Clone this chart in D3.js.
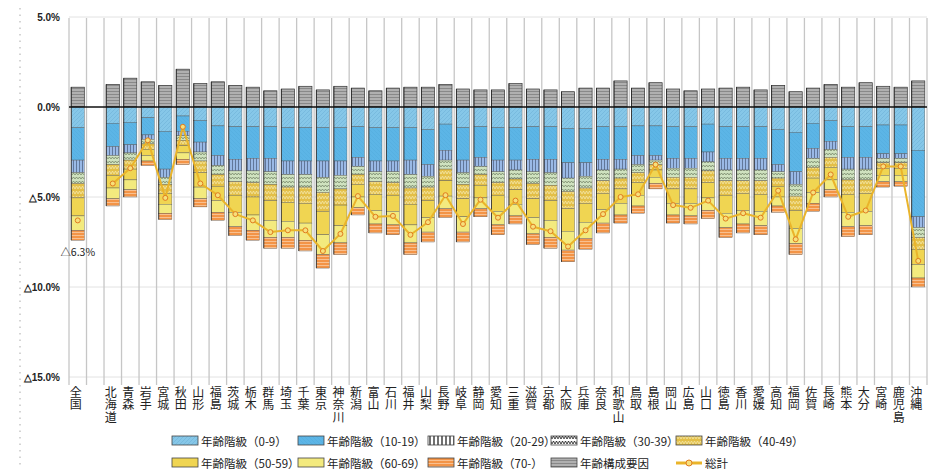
<!DOCTYPE html>
<html><head><meta charset="utf-8">
<script src="https://cdn.jsdelivr.net/npm/d3@7/dist/d3.min.js"></script>
<style>body{margin:0;background:#fff;}svg{display:block;font-family:"Noto Sans CJK JP","Noto Sans",sans-serif;}
.vlab{writing-mode:vertical-rl;text-orientation:upright;}</style>
</head><body>
<script>
const categories = ["全国","北海道","青森","岩手","宮城","秋田","山形","福島","茨城","栃木","群馬","埼玉","千葉","東京","神奈川","新潟","富山","石川","福井","山梨","長野","岐阜","静岡","愛知","三重","滋賀","京都","大阪","兵庫","奈良","和歌山","鳥取","島根","岡山","広島","山口","徳島","香川","愛媛","高知","福岡","佐賀","長崎","熊本","大分","宮崎","鹿児島","沖縄"];
// 年齢構成要因 (positive)
const ageStructure = [1.1,1.25,1.6,1.4,1.2,2.1,1.3,1.4,1.2,1.1,0.9,1.0,1.15,0.95,1.15,1.05,0.9,1.05,1.1,1.1,1.25,1.0,0.95,0.95,1.3,1.0,0.95,0.85,1.05,1.05,1.45,1.05,1.35,1.0,0.9,1.0,1.05,1.1,0.95,1.2,0.85,1.05,1.25,1.1,1.35,1.15,1.1,1.45];
const age0_9   = [-1.15,-0.9,-0.85,-0.6,-1.35,-0.5,-0.75,-1.05,-1.1,-1.1,-1.1,-1.15,-1.15,-1.15,-1.15,-1.1,-1.15,-1.15,-1.15,-1.25,-0.95,-1.15,-1.1,-1.15,-1.15,-1.1,-1.1,-1.2,-1.2,-1.1,-1.1,-1.05,-1.05,-1.1,-1.1,-0.95,-1.1,-1.1,-1.1,-1.25,-1.4,-0.9,-0.75,-1.1,-1.1,-1.0,-1.0,-2.4];
const age10_19 = [-1.8,-1.3,-1.25,-0.95,-2.1,-0.85,-1.2,-1.65,-1.8,-1.75,-1.75,-1.85,-1.85,-1.85,-1.85,-1.7,-1.85,-1.85,-1.8,-1.95,-1.45,-1.8,-1.7,-1.8,-1.8,-1.8,-1.8,-1.9,-1.9,-1.8,-1.8,-1.65,-1.65,-1.75,-1.75,-1.55,-1.75,-1.75,-1.75,-1.95,-2.2,-1.4,-1.15,-1.7,-1.7,-1.6,-1.6,-3.7];
const age20_29 = [-0.7,-0.5,-0.45,-0.25,-0.45,-0.25,-0.55,-0.55,-0.65,-0.7,-0.75,-0.75,-0.75,-0.9,-0.8,-0.5,-0.6,-0.6,-0.8,-0.65,-0.55,-0.7,-0.5,-0.65,-0.55,-0.7,-0.75,-0.85,-0.75,-0.6,-0.55,-0.5,-0.25,-0.55,-0.55,-0.55,-0.65,-0.65,-0.65,-0.4,-0.7,-0.55,-0.45,-0.65,-0.65,-0.25,-0.25,-0.6];
const age30_39 = [-0.6,-0.5,-0.4,-0.25,-0.4,-0.25,-0.5,-0.5,-0.6,-0.65,-0.7,-0.7,-0.7,-0.85,-0.75,-0.45,-0.55,-0.6,-0.75,-0.6,-0.5,-0.65,-0.45,-0.6,-0.5,-0.65,-0.7,-0.75,-0.65,-0.6,-0.5,-0.45,-0.25,-0.5,-0.5,-0.5,-0.6,-0.6,-0.6,-0.35,-0.65,-0.5,-0.45,-0.6,-0.6,-0.25,-0.25,-0.55];
const age40_49 = [-0.8,-0.6,-0.5,-0.3,-0.5,-0.3,-0.65,-0.65,-0.75,-0.8,-0.9,-0.85,-0.9,-1.05,-0.9,-0.55,-0.7,-0.7,-0.9,-0.75,-0.65,-0.8,-0.6,-0.7,-0.6,-0.85,-0.85,-0.95,-0.85,-0.7,-0.6,-0.55,-0.3,-0.65,-0.65,-0.65,-0.8,-0.7,-0.75,-0.45,-0.8,-0.6,-0.55,-0.8,-0.75,-0.3,-0.3,-0.65];
const age50_59 = [-1.0,-0.7,-0.6,-0.35,-0.6,-0.4,-0.8,-0.8,-0.95,-1.0,-1.1,-1.05,-1.1,-1.3,-1.15,-0.7,-0.9,-0.9,-1.15,-0.95,-0.85,-1.0,-0.7,-0.9,-0.8,-1.05,-1.1,-1.25,-1.05,-0.9,-0.8,-0.7,-0.4,-0.8,-0.8,-0.85,-1.0,-0.95,-0.95,-0.6,-1.0,-0.8,-0.7,-1.0,-1.0,-0.4,-0.4,-0.85];
const age60_69 = [-0.8,-0.6,-0.55,-0.3,-0.5,-0.35,-0.65,-0.65,-0.8,-0.85,-0.95,-0.9,-0.95,-1.1,-0.95,-0.6,-0.75,-0.75,-1.0,-0.8,-0.7,-0.85,-0.6,-0.75,-0.65,-0.9,-0.95,-1.05,-0.9,-0.75,-0.65,-0.6,-0.35,-0.65,-0.7,-0.7,-0.8,-0.75,-0.8,-0.5,-0.85,-0.6,-0.55,-0.8,-0.8,-0.35,-0.35,-0.75];
const age70_  = [-0.55,-0.4,-0.4,-0.25,-0.35,-0.3,-0.45,-0.45,-0.5,-0.55,-0.6,-0.6,-0.6,-0.75,-0.65,-0.4,-0.5,-0.55,-0.65,-0.55,-0.5,-0.55,-0.45,-0.55,-0.45,-0.6,-0.6,-0.65,-0.6,-0.55,-0.45,-0.4,-0.3,-0.45,-0.45,-0.45,-0.55,-0.5,-0.5,-0.35,-0.6,-0.45,-0.4,-0.55,-0.5,-0.3,-0.25,-0.5];
// 総計
const total = [-6.3,-4.25,-3.4,-1.85,-5.05,-1.1,-4.25,-4.9,-5.95,-6.3,-6.95,-6.85,-6.85,-8.0,-7.05,-4.95,-6.1,-6.05,-7.1,-6.4,-4.9,-6.5,-5.15,-6.15,-5.2,-6.65,-6.9,-7.75,-6.85,-5.95,-5.0,-4.85,-3.2,-5.45,-5.6,-5.2,-6.2,-5.9,-6.15,-4.65,-7.35,-4.75,-3.75,-6.1,-5.75,-3.3,-3.3,-8.55];
const yTicks = [5, 0, -5, -10, -15];
const yTickLabels = ["5.0%","0.0%","△5.0%","△10.0%","△15.0%"];
const nationalLabel = "△6.3%";

const negSeries = [
  {name:"年齢階級（0-9）", values:age0_9, fill:"url(#p0)", sw:"url(#p0)"},
  {name:"年齢階級（10-19）", values:age10_19, fill:"url(#p1)", sw:"url(#p1)"},
  {name:"年齢階級（20-29）", values:age20_29, fill:"url(#p2)", sw:"url(#p2l)"},
  {name:"年齢階級（30-39）", values:age30_39, fill:"url(#p3)", sw:"url(#p3l)"},
  {name:"年齢階級（40-49）", values:age40_49, fill:"url(#p4)", sw:"url(#p4)"},
  {name:"年齢階級（50-59）", values:age50_59, fill:"#f0d552", sw:"#f0d552"},
  {name:"年齢階級（60-69）", values:age60_69, fill:"#f3ea7e", sw:"#f3ea7e"},
  {name:"年齢階級（70-）", values:age70_, fill:"url(#p7)", sw:"url(#p7)"}
];
const posSeries = {name:"年齢構成要因", values:ageStructure, fill:"url(#pg)"};

const W = 934, H = 470;
const svg = d3.select("body").append("svg").attr("width", W).attr("height", H);
const defs = svg.append("defs");
function pat(id, w, h, bg, draw){
  const p = defs.append("pattern").attr("id", id).attr("patternUnits","userSpaceOnUse").attr("width", w).attr("height", h);
  p.append("rect").attr("width", w).attr("height", h).attr("fill", bg);
  draw(p);
}
pat("p0", 4, 4, "#86c7e8", p => p.append("path").attr("d","M0,4 L4,0").attr("stroke","#6fb2d6").attr("stroke-width",0.6));
pat("p1", 4, 4, "#5cb5e6", p => p.append("path").attr("d","M0,0 L4,4").attr("stroke","#52aadc").attr("stroke-width",0.5));
pat("p2", 3, 3, "#9ab9e6", p => p.append("path").attr("d","M1.5,0 V3").attr("stroke","#3a4a66").attr("stroke-width",0.6));
pat("p2l", 4, 4, "#ffffff", p => p.append("path").attr("d","M2,0 V4").attr("stroke","#111").attr("stroke-width",1.2));
pat("p3", 6, 4, "#cfe2bf", p => p.append("path").attr("d","M0,3 L1.5,1 L3,3 L4.5,1 L6,3").attr("stroke","#4a5a40").attr("stroke-width",0.5).attr("fill","none"));
pat("p3l", 6, 5, "#ffffff", p => p.append("path").attr("d","M0,4 L1.5,1 L3,4 L4.5,1 L6,4").attr("stroke","#111").attr("stroke-width",0.8).attr("fill","none"));
pat("p4", 6, 5, "#e3bf48", p => p.append("path").attr("d","M0,4 L1.5,1 L3,4 L4.5,1 L6,4").attr("stroke","#f4e7a8").attr("stroke-width",0.8).attr("fill","none"));
pat("p7", 4, 3, "#f39447", p => p.append("path").attr("d","M0,1.5 H4").attr("stroke","#fbd3b0").attr("stroke-width",0.7));
pat("pg", 4, 3, "#b0b0b0", p => p.append("path").attr("d","M0,1.5 H4").attr("stroke","#6e6e6e").attr("stroke-width",0.6));

const slots = [categories[0], "_gap", ...categories.slice(1)];
const x = d3.scaleBand().domain(slots).range([69, 927]).paddingInner(0.25).paddingOuter(0.125);
const y = d3.scaleLinear().domain([-15, 5]).range([377, 17]);
const step = x.step();

// faint artifact-like left dotted line
svg.append("line").attr("x1",20).attr("x2",20).attr("y1",8).attr("y2",465)
  .attr("stroke","#aaa").attr("stroke-dasharray","1.5,5").attr("stroke-width",1);

// horizontal faint gridlines
svg.append("g").selectAll("line").data(yTicks.filter(d => d !== 0)).join("line")
  .attr("x1", 69).attr("x2", 927).attr("y1", d => y(d)).attr("y2", d => y(d))
  .attr("stroke", "#e2e2e2").attr("stroke-width", 1);

// vertical column lines
const bounds = slots.map(s => x(s) - step * x.paddingInner() / 2).concat([x(slots[slots.length-1]) + x.bandwidth() + step * x.paddingInner() / 2]);
svg.append("g").selectAll("line").data(bounds).join("line")
  .attr("x1", d => d).attr("x2", d => d).attr("y1", 18).attr("y2", 385)
  .attr("stroke", "#c6c6c6").attr("stroke-width", 1.3);

// stacked bars
const gBars = svg.append("g");
categories.forEach((c, i) => {
  const bx = x(c), bw = x.bandwidth();
  const pv = posSeries.values[i];
  gBars.append("rect").attr("x", bx).attr("width", bw)
    .attr("y", y(pv)).attr("height", y(0) - y(pv))
    .attr("fill", posSeries.fill).attr("stroke", "#333").attr("stroke-width", 0.7);
  let acc = 0;
  negSeries.forEach(s => {
    const v = s.values[i];
    const y0 = y(acc), y1 = y(acc + v);
    gBars.append("rect").attr("x", bx).attr("width", bw)
      .attr("y", y0).attr("height", y1 - y0)
      .attr("fill", s.fill).attr("stroke", "#555").attr("stroke-width", 0.4);
    acc += v;
  });
  gBars.append("line").attr("x1", bx).attr("x2", bx).attr("y1", y(pv)).attr("y2", y(acc)).attr("stroke","#222").attr("stroke-width",0.8);
});

// zero line
svg.append("line").attr("x1", 69).attr("x2", 927).attr("y1", y(0)).attr("y2", y(0))
  .attr("stroke", "#111").attr("stroke-width", 1.3);

// total line (prefectures) and markers
const prefIdx = d3.range(1, categories.length);
const line = d3.line().x(i => x(categories[i]) + x.bandwidth()/2).y(i => y(total[i]));
svg.append("path").datum(prefIdx).attr("d", line).attr("fill","none")
  .attr("stroke", "#eab42a").attr("stroke-width", 2).attr("stroke-linejoin","round");
svg.append("g").selectAll("circle").data(d3.range(categories.length)).join("circle")
  .attr("cx", i => x(categories[i]) + x.bandwidth()/2).attr("cy", i => y(total[i])).attr("r", 2.5)
  .attr("fill", "#f7e07a").attr("stroke", "#e07b20").attr("stroke-width", 1);

// national label
svg.append("text").attr("x", x(categories[0]) + x.bandwidth()/2).attr("y", 256)
  .attr("text-anchor","middle").attr("font-size", 10.5).attr("fill","#222").text(nationalLabel);

// y axis labels
svg.append("g").selectAll("text").data(yTicks).join("text")
  .attr("x", 60).attr("y", d => y(d) + 3.5).attr("text-anchor","end")
  .attr("font-size", 10).attr("font-weight","bold").attr("fill","#222")
  .attr("font-family","'Liberation Sans',Arial,sans-serif")
  .text((d, i) => yTickLabels[i]);

// x labels (vertical, upright characters)
svg.append("g").selectAll("text").data(categories).join("text")
  .attr("class","vlab")
  .attr("x", c => x(c) + x.bandwidth()/2 - 2).attr("y", 386)
  .attr("font-size", 12).attr("letter-spacing", "0.5px").attr("fill","#222")
  .text(c => c);

// legend
const legendItems = [
  {name:negSeries[0].name, sw:negSeries[0].sw, col:0, row:0},
  {name:negSeries[1].name, sw:negSeries[1].sw, col:1, row:0},
  {name:negSeries[2].name, sw:negSeries[2].sw, col:2, row:0},
  {name:negSeries[3].name, sw:negSeries[3].sw, col:3, row:0},
  {name:negSeries[4].name, sw:negSeries[4].sw, col:4, row:0},
  {name:negSeries[5].name, sw:negSeries[5].sw, col:0, row:1},
  {name:negSeries[6].name, sw:negSeries[6].sw, col:1, row:1},
  {name:negSeries[7].name, sw:negSeries[7].sw, col:2, row:1},
  {name:posSeries.name, sw:posSeries.fill, col:3, row:1},
  {name:"総計", sw:null, col:4, row:1}
];
const colX = [172, 298, 428, 551, 676];
const rowY = [441, 463];
const gl = svg.append("g");
legendItems.forEach(it => {
  const lx = colX[it.col], ly = rowY[it.row];
  if (it.sw) {
    gl.append("rect").attr("x", lx).attr("y", ly - 5).attr("width", 26).attr("height", 9)
      .attr("fill", it.sw).attr("stroke", "#444").attr("stroke-width", 0.8);
  } else {
    gl.append("line").attr("x1", lx).attr("x2", lx + 26).attr("y1", ly).attr("y2", ly)
      .attr("stroke", "#eab42a").attr("stroke-width", 3);
    gl.append("circle").attr("cx", lx + 13).attr("cy", ly).attr("r", 3)
      .attr("fill", "#f7e07a").attr("stroke", "#e07b20").attr("stroke-width", 1);
  }
  gl.append("text").attr("x", lx + 29).attr("y", ly + 4.5).attr("font-size", 11.5).attr("fill","#222").text(it.name);
});
</script>
</body></html>
